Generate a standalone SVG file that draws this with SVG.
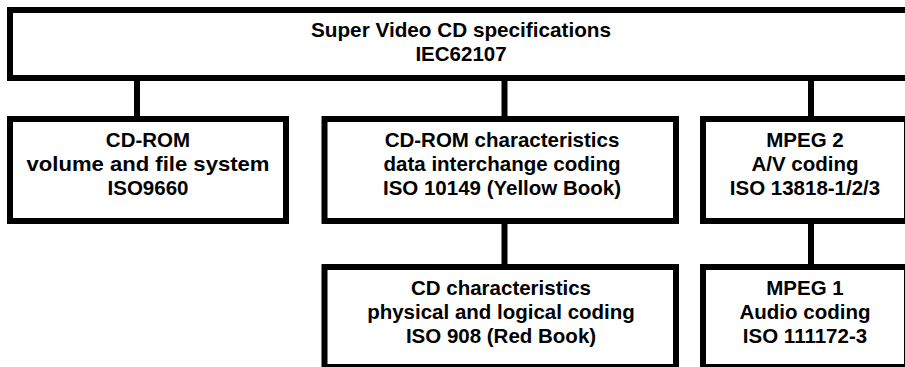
<svg xmlns="http://www.w3.org/2000/svg" width="905" height="367" viewBox="0 0 905 367">
<style>
.box{fill:#fff;stroke:#000;stroke-width:6}
.con{stroke:#000;stroke-width:6;fill:none}
text{font-family:"Liberation Sans",Arial,sans-serif;font-weight:bold;font-size:20.5px;fill:#000;text-anchor:middle}
</style>
<rect width="905" height="367" fill="#fff"/>
<g id="connectors">
<line class="con" x1="137" y1="78" x2="137" y2="119"/>
<line class="con" x1="504.5" y1="78" x2="504.5" y2="119"/>
<line class="con" x1="811" y1="78" x2="811" y2="119"/>
<line class="con" x1="504.5" y1="221" x2="504.5" y2="267"/>
<line class="con" x1="811" y1="221" x2="811" y2="267"/>
</g>
<g id="svcd">
<rect class="box" x="10" y="10" width="902" height="68"/>
<text x="461" y="36.5" textLength="300" lengthAdjust="spacingAndGlyphs">Super Video CD specifications</text>
<text x="461" y="60.5">IEC62107</text>
</g>
<g id="cdrom-fs">
<rect class="box" x="10" y="119" width="276" height="102"/>
<text x="148" y="147">CD-ROM</text>
<text x="148" y="171" textLength="243" lengthAdjust="spacingAndGlyphs">volume and file system</text>
<text x="148" y="195">ISO9660</text>
</g>
<g id="cdrom-char">
<rect class="box" x="324.5" y="119" width="351.5" height="102"/>
<text x="502" y="147">CD-ROM characteristics</text>
<text x="502" y="171">data interchange coding</text>
<text x="502" y="195">ISO 10149 (Yellow Book)</text>
</g>
<g id="mpeg2">
<rect class="box" x="703" y="119" width="204" height="102"/>
<text x="805" y="147">MPEG 2</text>
<text x="805" y="171">A/V coding</text>
<text x="805" y="195">ISO 13818-1/2/3</text>
</g>
<g id="cd-char">
<rect class="box" x="324.5" y="267" width="351.5" height="100"/>
<text x="501" y="295">CD characteristics</text>
<text x="501" y="319">physical and logical coding</text>
<text x="501" y="343">ISO 908 (Red Book)</text>
</g>
<g id="mpeg1">
<rect class="box" x="703" y="267" width="204" height="100"/>
<text x="805" y="295">MPEG 1</text>
<text x="805" y="319">Audio coding</text>
<text x="805" y="343">ISO 111172-3</text>
</g>
</svg>
